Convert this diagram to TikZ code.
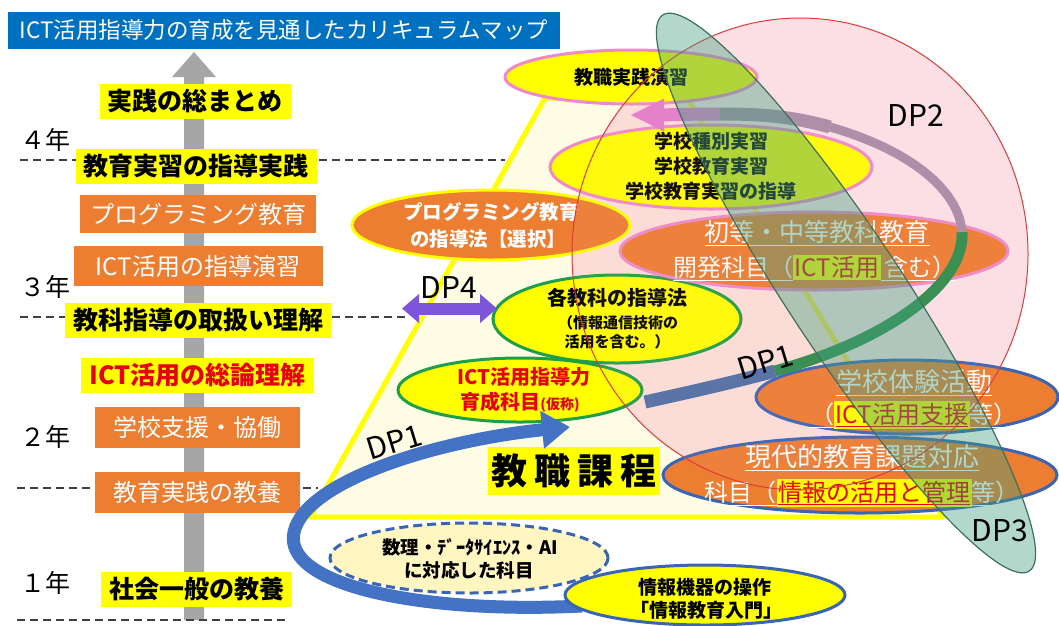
\documentclass[tikz,border=0pt]{standalone}
\usepackage{fontspec}
\setmainfont{Noto Sans CJK JP}
\usetikzlibrary{shapes.geometric,arrows.meta}
\definecolor{cOrange}{HTML}{ED7D31}
\definecolor{cYellow}{HTML}{FFFF00}
\definecolor{cTitle}{HTML}{0070C0}
\definecolor{cGrayArrow}{HTML}{A6A6A6}
\definecolor{cPinkB}{HTML}{EE8AC8}
\definecolor{cGreenB}{HTML}{1E9E48}
\definecolor{cBlueB}{HTML}{3A64B4}
\definecolor{cCream}{HTML}{FFFCE6}
\definecolor{cRed}{HTML}{E60012}
\definecolor{cDPone}{HTML}{4472C4}
\definecolor{cBand}{HTML}{4D6FA6}
\definecolor{cGreenBand}{HTML}{2A8C4A}
\definecolor{cMauve}{HTML}{A98BA8}
\definecolor{cPinkBand}{HTML}{E47CCB}
\definecolor{cPurple}{HTML}{7C55D8}
\definecolor{cCircle}{HTML}{F8B8C4}
\definecolor{cCircleB}{HTML}{E03A3A}
\definecolor{cTeal}{HTML}{3E9E7E}
\definecolor{cTealB}{HTML}{3F6F58}
\definecolor{cDash}{HTML}{404040}
\definecolor{cSuri}{HTML}{FFF6C2}
\newcommand\setfs[2]{\fontsize{#1}{#2}\selectfont}
\newcommand\hlr[1]{{\setlength{\fboxsep}{1.5pt}\colorbox{cYellow}{\color{cRed}#1}}}
\begin{document}
\begin{tikzpicture}[x=1pt,y=-1pt,
  ylab/.style={fill=cYellow, font=\setfs{25}{30}\bfseries, minimum height=35pt, inner xsep=8pt, inner ysep=0pt},
  olab/.style={fill=cOrange, text=white, font=\setfs{24}{30}, minimum height=38pt, inner sep=0pt},
  yr/.style={font=\setfs{25}{30}},
  dashline/.style={draw=cDash, line width=1.3pt, dash pattern=on 8pt off 5pt},
  ell/.style={ellipse, inner sep=0pt, line width=3pt},
  btxt/.style={font=\setfs{19}{24}\bfseries, inner sep=0pt},
  wtxt/.style={font=\setfs{19.5}{24}\bfseries, text=white, inner sep=0pt},
  otxt/.style={font=\setfs{25}{30}, text=white, inner sep=0pt},
  dpl/.style={font=\setfs{30}{30}, inner sep=0pt},
  dptwoshape/.style={ellipse, minimum width=456pt, minimum height=472pt, inner sep=0pt}]
\useasboundingbox (0,0) rectangle (1059,625);
% trapezoid
\coordinate (tA) at (310,517); \coordinate (tB) at (545,98);
\coordinate (tC) at (687,98);  \coordinate (tD) at (943,517);
\filldraw[fill=cCream, draw=cYellow, line width=5pt, line join=round] (tA) -- (tB) -- (tC) -- (tD) -- cycle;
% DP2 circle fill (below)
\node[dptwoshape, fill=cCircle, fill opacity=0.4] (dptwofill) at (800,254) {};
% title
\node[fill=cTitle, text=white, minimum width=552pt, minimum height=37pt, inner sep=0pt, font=\setfs{22.5}{27}] (title) at (284,30.5) {ICT活用指導力の育成を見通したカリキュラムマップ};
% gray arrow
\fill[cGrayArrow] (184,620) -- (184,77) -- (172,77) -- (194,52) -- (216,77) -- (204,77) -- (204,620) -- cycle;
% dashed lines
\coordinate (d4a) at (20,160); \coordinate (d4b) at (505,160);
\coordinate (d3a) at (20,317); \coordinate (d3b) at (405,317);
\coordinate (d2a) at (17,488); \coordinate (d2b) at (318,488);
\coordinate (d1a) at (17,620); \coordinate (d1b) at (285,620);
\draw[dashline] (d4a) -- (d4b);
\draw[dashline] (d3a) -- (d3b);
\draw[dashline] (d2a) -- (d2b);
\draw[dashline] (d1a) -- (d1b);
% years
\node[yr] (y4) at (45,140) {４年};
\node[yr] (y3) at (45,287) {３年};
\node[yr] (y2) at (45,437) {２年};
\node[yr] (y1) at (45,583) {１年};
% left labels
\node[ylab] (l1) at (195,101) {実践の総まとめ};
\node[ylab] (l2) at (196,166) {教育実習の指導実践};
\node[olab, minimum width=236pt] (l3) at (198,214) {プログラミング教育};
\node[olab, minimum width=249pt, minimum height=40pt] (l4) at (198,266) {ICT活用の指導演習};
\node[ylab] (l5) at (198,320) {教科指導の取扱い理解};
\node[ylab, text=cRed] (l6) at (197.5,375) {ICT活用の総論理解};
\node[olab, minimum width=205pt, minimum height=41pt] (l7) at (197.5,427.5) {学校支援・協働};
\node[olab, minimum width=205pt, minimum height=41pt] (l8) at (197.5,492.5) {教育実践の教養};
\node[ylab] (l9) at (196.5,589) {社会一般の教養};
% ellipses
\node[ell, fill=cYellow, draw=cPinkB, minimum width=252pt, minimum height=54pt] (eA) at (631,77) {};
\node[btxt] (tA1) at (631,77) {教職実践演習};
\node[ell, fill=cYellow, draw=cPinkB, minimum width=322pt, minimum height=84pt] (eB) at (711,167) {};
\node[btxt] (tB1) at (711,141) {学校種別実習};
\node[btxt] (tB2) at (711,166) {学校教育実習};
\node[btxt] (tB3) at (711,191) {学校教育実習の指導};
\node[ell, fill=cOrange, draw=cYellow, minimum width=278pt, minimum height=70pt] (eC) at (491,225) {};
\node[wtxt] (tC1) at (491,212) {プログラミング教育};
\node[wtxt] (tC2) at (488,239) {の指導法【選択】};
\node[ell, fill=cYellow, draw=cGreenB, minimum width=248pt, minimum height=88pt] (eD) at (617,319) {};
\node[font=\setfs{20}{24}\bfseries, inner sep=0pt] (tD1) at (617,298) {各教科の指導法};
\node[font=\setfs{15}{18}\bfseries, inner sep=0pt] (tD2) at (618,323) {（情報通信技術の};
\node[font=\setfs{15}{18}\bfseries, inner sep=0pt] (tD3) at (617,342) {活用を含む。）};
\node[ell, fill=cYellow, draw=cGreenB, minimum width=244pt, minimum height=64pt] (eE) at (520,390) {};
\node[font=\setfs{20}{24}\bfseries, text=cRed, inner sep=0pt] (tE1) at (524,377) {ICT活用指導力};
\node[font=\setfs{20}{24}\bfseries, text=cRed, inner sep=0pt] (tE2) at (520,402) {育成科目{\setfs{14}{16}(仮称)}};
\node[ell, fill=cOrange, draw=cPinkB, minimum width=388pt, minimum height=78pt] (eF) at (814,251) {};
\node[otxt] (tF1) at (817,233) {\underline{初等・中等教科教育}};
\node[otxt, font=\setfs{24}{30}] (tF2) at (815,268) {\underline{開発科目（}\hlr{ICT活用}\underline{\,含む）}};
\node[ell, fill=cOrange, draw=cBlueB, minimum width=302pt, minimum height=74pt] (eG) at (907,397) {};
\node[otxt, font=\setfs{26}{30}] (tG1) at (914,383) {\underline{学校体験活動}};
\node[otxt, font=\setfs{24}{30}] (tG2) at (914,415) {\underline{（}\hlr{\underline{ICT活用支援}}\underline{等）}};
\node[ell, fill=cOrange, draw=cBlueB, minimum width=394pt, minimum height=76pt] (eH) at (860,475) {};
\node[otxt, font=\setfs{26}{30}] (tH1) at (862,458) {\underline{現代的教育課題対応}};
\node[otxt, font=\setfs{24}{30}] (tH2) at (862,493) {\underline{科目（}\hlr{\underline{情報の活用と管理}}\underline{等）}};
% 教職課程
\node[fill=cYellow, font=\setfs{36}{40}\bfseries, minimum width=172pt, minimum height=48pt, inner sep=0pt] (kk) at (574,471) {教\hspace{7pt}職\hspace{7pt}課\hspace{7pt}程};
% DP1 arrow
\coordinate (p1s) at (582,606); \coordinate (p1m) at (294,532); \coordinate (p1e) at (570,427);
\draw[line width=13pt, cDPone, -{Triangle[length=28pt,width=36pt]}] (p1s) .. controls (420,614) and (282,585) .. (p1m) .. controls (306,480) and (440,440) .. (p1e);
\node[ell, fill=cSuri, draw=cBlueB, dash pattern=on 9pt off 5pt, minimum width=278pt, minimum height=70pt] (eI) at (469,558) {};
\node[btxt, font=\setfs{18.5}{24}\bfseries] (tI1) at (470,547) {数理・ﾃﾞｰﾀｻｲｴﾝｽ・AI};
\node[btxt, font=\setfs{18.5}{24}\bfseries] (tI2) at (469,570) {に対応した科目};
\node[ell, fill=cYellow, draw=cBlueB, minimum width=280pt, minimum height=60pt] (eJ) at (705,595) {};
\node[btxt] (tJ1) at (705,587) {情報機器の操作};
\node[btxt] (tJ2) at (706,610) {「情報教育入門」};
% spiral DP1 -> DP2
\coordinate (s0) at (645,402); \coordinate (s1) at (775,371); \coordinate (s2) at (962,232);
\coordinate (s3) at (830,127); \coordinate (s4) at (720,114); \coordinate (s5) at (630,115);
\draw[line width=13pt, cBand] (s0) .. controls (690,392) and (735,382) .. (s1);
\draw[line width=11pt, cGreenBand] (s1) .. controls (885,341) and (965,285) .. (s2);
\draw[line width=9pt, cMauve] (s2) .. controls (959,190) and (910,150) .. (s3);
\draw[line width=13pt, cMauve] (s3) .. controls (790,116) and (760,114) .. (s4);
\draw[line width=13pt, cPinkBand, -{Triangle[length=34pt,width=30pt]}] (s4) .. controls (690,114) and (660,115) .. (s5);
% DP4 arrow
\coordinate (q1) at (402,308.5); \coordinate (q2) at (497,308.5);
\draw[line width=12pt, cPurple, {Triangle[length=17pt,width=28pt]}-{Triangle[length=17pt,width=28pt]}] (q1) -- (q2);
% DP2 circle outline (on top) and DP3 ellipse
\node[dptwoshape, fill=cCircle, fill opacity=0.08, draw=cCircleB, draw opacity=1, line width=1pt] (dptwo) at (800,254) {};
\node[ellipse, minimum width=666pt, minimum height=116pt, inner sep=0pt, rotate=-56.6, fill=cTeal, fill opacity=0.4, draw=cTealB, draw opacity=1, line width=1.2pt] (dpthree) at (846,293) {};
% DP labels
\node[dpl] (dp4) at (449,287) {DP4};
\node[dpl] (dp2) at (916,115) {DP2};
\node[dpl] (dp3) at (1000,531) {DP3};
\node[dpl, rotate=17] (dp1a) at (394,442) {DP1};
\node[dpl, rotate=17] (dp1b) at (765,362) {DP1};
\end{tikzpicture}
\end{document}
